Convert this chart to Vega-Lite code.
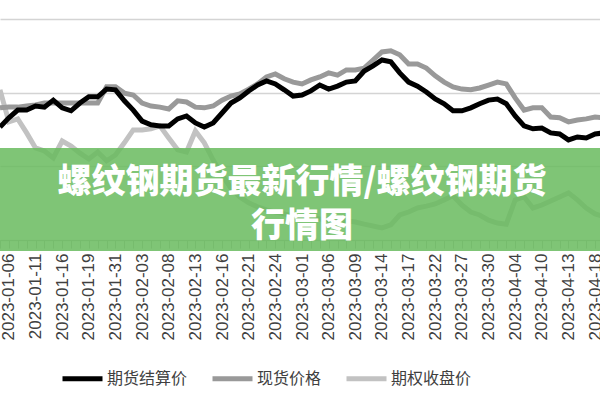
{
  "$schema": "https://vega.github.io/schema/vega-lite/v6.json",
  "width": 600,
  "height": 240,
  "autosize": "none",
  "padding": {"left": 0, "top": 0, "right": 0, "bottom": 160},
  "background": "white",
  "config": {"view": {"stroke": null}, "font": "Liberation Sans"},
  "data": {"values": [
    {"date":"2023-01-05","futures":3807,"spot":3859,"option":3908},
    {"date":"2023-01-06","futures":3832,"spot":3861,"option":3821},
    {"date":"2023-01-09","futures":3853,"spot":3861,"option":3829},
    {"date":"2023-01-10","futures":3853,"spot":3864,"option":3791},
    {"date":"2023-01-11","futures":3864,"spot":3867,"option":3750},
    {"date":"2023-01-12","futures":3861,"spot":3872,"option":3742},
    {"date":"2023-01-13","futures":3880,"spot":3872,"option":3723},
    {"date":"2023-01-16","futures":3859,"spot":3872,"option":3769},
    {"date":"2023-01-17","futures":3851,"spot":3872,"option":3755},
    {"date":"2023-01-18","futures":3872,"spot":3872,"option":3736},
    {"date":"2023-01-19","futures":3889,"spot":3872,"option":3720},
    {"date":"2023-01-20","futures":3889,"spot":3872,"option":3739},
    {"date":"2023-01-30","futures":3910,"spot":3916,"option":3715},
    {"date":"2023-01-31","futures":3908,"spot":3916,"option":3731},
    {"date":"2023-02-01","futures":3878,"spot":3899,"option":3764},
    {"date":"2023-02-02","futures":3853,"spot":3894,"option":3799},
    {"date":"2023-02-03","futures":3823,"spot":3872,"option":3799},
    {"date":"2023-02-06","futures":3813,"spot":3864,"option":3802},
    {"date":"2023-02-07","futures":3810,"spot":3861,"option":3810},
    {"date":"2023-02-08","futures":3810,"spot":3856,"option":3777},
    {"date":"2023-02-09","futures":3829,"spot":3878,"option":3745},
    {"date":"2023-02-10","futures":3837,"spot":3875,"option":3739},
    {"date":"2023-02-13","futures":3818,"spot":3861,"option":3796},
    {"date":"2023-02-14","futures":3807,"spot":3859,"option":3764},
    {"date":"2023-02-15","futures":3818,"spot":3864,"option":3717},
    {"date":"2023-02-16","futures":3845,"spot":3880,"option":3677},
    {"date":"2023-02-17","futures":3872,"spot":3891,"option":3641},
    {"date":"2023-02-20","futures":3886,"spot":3897,"option":3617},
    {"date":"2023-02-21","futures":3905,"spot":3910,"option":3601},
    {"date":"2023-02-22","futures":3921,"spot":3924,"option":3590},
    {"date":"2023-02-23","futures":3932,"spot":3943,"option":3582},
    {"date":"2023-02-24","futures":3924,"spot":3951,"option":3576},
    {"date":"2023-02-27","futures":3908,"spot":3938,"option":3571},
    {"date":"2023-02-28","futures":3891,"spot":3929,"option":3565},
    {"date":"2023-03-01","futures":3894,"spot":3924,"option":3563},
    {"date":"2023-03-02","futures":3905,"spot":3935,"option":3560},
    {"date":"2023-03-03","futures":3921,"spot":3943,"option":3557},
    {"date":"2023-03-06","futures":3910,"spot":3954,"option":3554},
    {"date":"2023-03-07","futures":3918,"spot":3948,"option":3554},
    {"date":"2023-03-08","futures":3929,"spot":3962,"option":3552},
    {"date":"2023-03-09","futures":3932,"spot":3962,"option":3549},
    {"date":"2023-03-10","futures":3959,"spot":3967,"option":3543},
    {"date":"2023-03-13","futures":3973,"spot":3989,"option":3538},
    {"date":"2023-03-14","futures":3989,"spot":4011,"option":3533},
    {"date":"2023-03-15","futures":3984,"spot":4014,"option":3541},
    {"date":"2023-03-16","futures":3954,"spot":4003,"option":3568},
    {"date":"2023-03-17","futures":3929,"spot":3978,"option":3576},
    {"date":"2023-03-20","futures":3918,"spot":3978,"option":3587},
    {"date":"2023-03-21","futures":3902,"spot":3967,"option":3592},
    {"date":"2023-03-22","futures":3883,"spot":3946,"option":3598},
    {"date":"2023-03-23","futures":3870,"spot":3929,"option":3609},
    {"date":"2023-03-24","futures":3851,"spot":3916,"option":3620},
    {"date":"2023-03-27","futures":3851,"spot":3910,"option":3595},
    {"date":"2023-03-28","futures":3859,"spot":3908,"option":3576},
    {"date":"2023-03-29","futures":3870,"spot":3913,"option":3568},
    {"date":"2023-03-30","futures":3880,"spot":3921,"option":3554},
    {"date":"2023-03-31","futures":3883,"spot":3929,"option":3546},
    {"date":"2023-04-03","futures":3870,"spot":3924,"option":3543},
    {"date":"2023-04-04","futures":3837,"spot":3886,"option":3609},
    {"date":"2023-04-06","futures":3810,"spot":3853,"option":3617},
    {"date":"2023-04-07","futures":3802,"spot":3859,"option":3587},
    {"date":"2023-04-10","futures":3804,"spot":3859,"option":3595},
    {"date":"2023-04-11","futures":3791,"spot":3834,"option":3606},
    {"date":"2023-04-12","futures":3788,"spot":3832,"option":3617},
    {"date":"2023-04-13","futures":3772,"spot":3821,"option":3628},
    {"date":"2023-04-14","futures":3780,"spot":3826,"option":3609},
    {"date":"2023-04-17","futures":3777,"spot":3829,"option":3587},
    {"date":"2023-04-18","futures":3788,"spot":3834,"option":3571},
    {"date":"2023-04-19","futures":3791,"spot":3832,"option":3563}
  ]},
  "layer": [
    {
      "mark": {"type": "line", "strokeWidth": 5},
      "encoding": {
        "x": {"field": "date", "type": "ordinal", "scale": {"type": "point", "padding": 0, "range": [0, 604]},
          "axis": {"title": null, "labelAngle": -90, "labelFontSize": 17, "labelColor": "#404040", "labelFont": "Liberation Sans", "labelOverlap": false, "labelBound": false, "labelPadding": 5, "tickSize": 8, "tickColor": "#bfbfbf", "tickWidth": 1, "domainColor": "#bfbfbf", "domainWidth": 1, "grid": false, "zindex": 0,
            "labelExpr": "indexof(['2023-01-06','2023-01-11','2023-01-16','2023-01-19','2023-01-31','2023-02-03','2023-02-08','2023-02-13','2023-02-16','2023-02-21','2023-02-24','2023-03-01','2023-03-06','2023-03-09','2023-03-14','2023-03-17','2023-03-22','2023-03-27','2023-03-30','2023-04-04','2023-04-10','2023-04-13','2023-04-18'], datum.value) >= 0 ? datum.value : ''"}},
        "y": {"field": "option", "type": "quantitative", "scale": {"domain": [3500, 4152], "nice": false, "zero": false},
          "axis": {"title": null, "values": [3500, 3600, 3700, 3800, 3900, 4000, 4100], "labels": false, "ticks": false, "domain": false, "grid": true, "gridColor": "#d4d4d4", "gridWidth": 1.5, "zindex": 0}},
        "color": {"datum": "期权收盘价", "scale": {"domain": ["期货结算价", "现货价格", "期权收盘价"], "range": ["#000000", "#999999", "#c2c2c2"]},
          "legend": {"title": null, "orient": "none", "legendX": 60, "legendY": 356, "direction": "horizontal", "symbolType": "stroke", "symbolSize": 1600, "symbolStrokeWidth": 5, "labelFont": "Noto Sans CJK SC", "labelFontSize": 16, "labelColor": "#404040", "labelOffset": 2, "columnPadding": 14, "padding": 0}}
      }
    },
    {
      "mark": {"type": "line", "strokeWidth": 5},
      "encoding": {
        "x": {"field": "date", "type": "ordinal"},
        "y": {"field": "spot", "type": "quantitative"},
        "color": {"datum": "现货价格"}
      }
    },
    {
      "mark": {"type": "line", "strokeWidth": 5},
      "encoding": {
        "x": {"field": "date", "type": "ordinal"},
        "y": {"field": "futures", "type": "quantitative"},
        "color": {"datum": "期货结算价"}
      }
    },
    {
      "data": {"values": [{}]},
      "mark": {"type": "rect", "fill": "#69bb5e", "opacity": 0.85},
      "encoding": {
        "y": {"datum": 3750, "type": "quantitative"},
        "y2": {"datum": 3470}
      }
    },
    {
      "data": {"values": [{}]},
      "mark": {"type": "text", "text": ["螺纹钢期货最新行情/螺纹钢期货", "行情图"], "font": "Noto Sans CJK SC", "fontWeight": 900, "fontSize": 34, "lineHeight": 44, "color": "#ffffff", "align": "center", "baseline": "middle"},
      "encoding": {
        "x": {"datum": "2023-03-01", "type": "ordinal"},
        "y": {"datum": 3655, "type": "quantitative"}
      }
    }
  ]
}
